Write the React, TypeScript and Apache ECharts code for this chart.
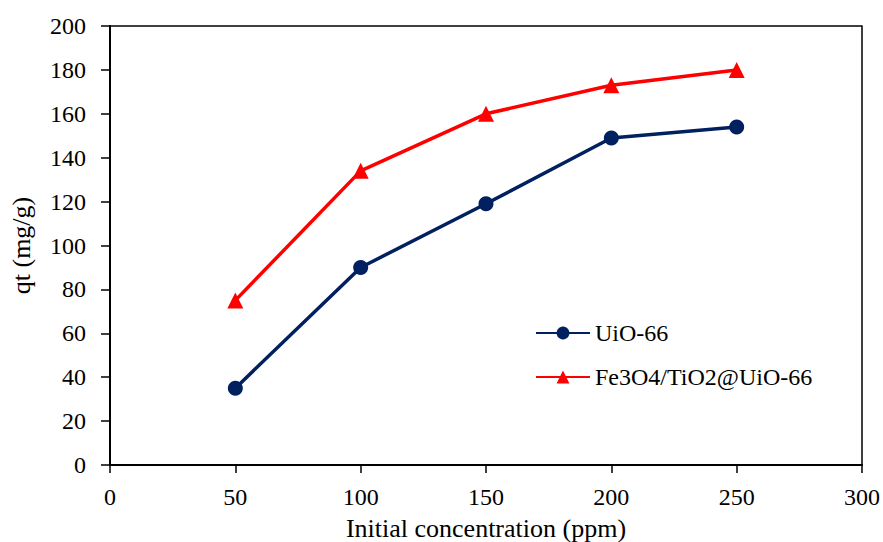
import React, { useEffect, useRef } from "react";
import * as echarts from "echarts";

const xValues = [50, 100, 150, 200, 250];
const uio66 = [35, 90, 119, 149, 154];
const fe3o4 = [75, 134, 160, 173, 180];
const seriesNames = ["UiO-66", "Fe3O4/TiO2@UiO-66"];

const FONT = "Times New Roman, Liberation Serif, Tinos, serif";

export default function App() {
  const ref = useRef<HTMLDivElement>(null);
  useEffect(() => {
    if (!ref.current) return;
    const chart = echarts.init(ref.current, undefined, { renderer: "svg" });
    chart.setOption({
      animation: false,
      backgroundColor: "#fff",
      textStyle: { fontFamily: FONT },
      grid: {
        left: 110,
        right: 21,
        top: 26,
        bottom: 77,
        outerBoundsMode: "none",
        containLabel: false,
        show: true,
        borderColor: "#000",
        borderWidth: 1.5,
        backgroundColor: "transparent",
      },
      legend: {
        orient: "vertical",
        left: 530,
        top: 316,
        itemWidth: 54,
        itemHeight: 16,
        itemGap: 20,
        textStyle: { fontFamily: FONT, fontSize: 24, color: "#000" },
        data: seriesNames,
      },
      xAxis: {
        type: "value",
        min: 0,
        max: 300,
        interval: 50,
        name: "Initial concentration (ppm)",
        nameLocation: "middle",
        nameGap: 50,
        nameTextStyle: { fontFamily: FONT, fontSize: 26, color: "#000" },
        axisLine: { show: true, onZero: false, lineStyle: { color: "#000", width: 2 } },
        axisTick: { show: true, inside: false, length: 8, lineStyle: { color: "#000", width: 1.5 } },
        axisLabel: { fontFamily: FONT, fontSize: 24, color: "#000", margin: 20 },
        splitLine: { show: false },
      },
      yAxis: {
        type: "value",
        min: 0,
        max: 200,
        interval: 20,
        name: "qt (mg/g)",
        nameLocation: "middle",
        nameGap: 76,
        nameTextStyle: { fontFamily: FONT, fontSize: 26, color: "#000" },
        axisLine: { show: true, lineStyle: { color: "#000", width: 2 } },
        axisTick: { show: true, inside: false, length: 9, lineStyle: { color: "#000", width: 1.5 } },
        axisLabel: { fontFamily: FONT, fontSize: 24, color: "#000", margin: 24 },
        splitLine: { show: false },
      },
      series: [
        {
          name: seriesNames[0],
          type: "line",
          data: xValues.map((x, i) => [x, uio66[i]]),
          symbol: "circle",
          symbolSize: 15,
          lineStyle: { color: "#002060", width: 3.5 },
          itemStyle: { color: "#002060" },
        },
        {
          name: seriesNames[1],
          type: "line",
          data: xValues.map((x, i) => [x, fe3o4[i]]),
          symbol: "triangle",
          symbolSize: 16,
          lineStyle: { color: "#ff0000", width: 3.5 },
          itemStyle: { color: "#ff0000" },
        },
      ],
    });
    return () => chart.dispose();
  }, []);
  return <div ref={ref} style={{ width: 883, height: 542, position: "absolute", left: 0, top: 0 }} />;
}
